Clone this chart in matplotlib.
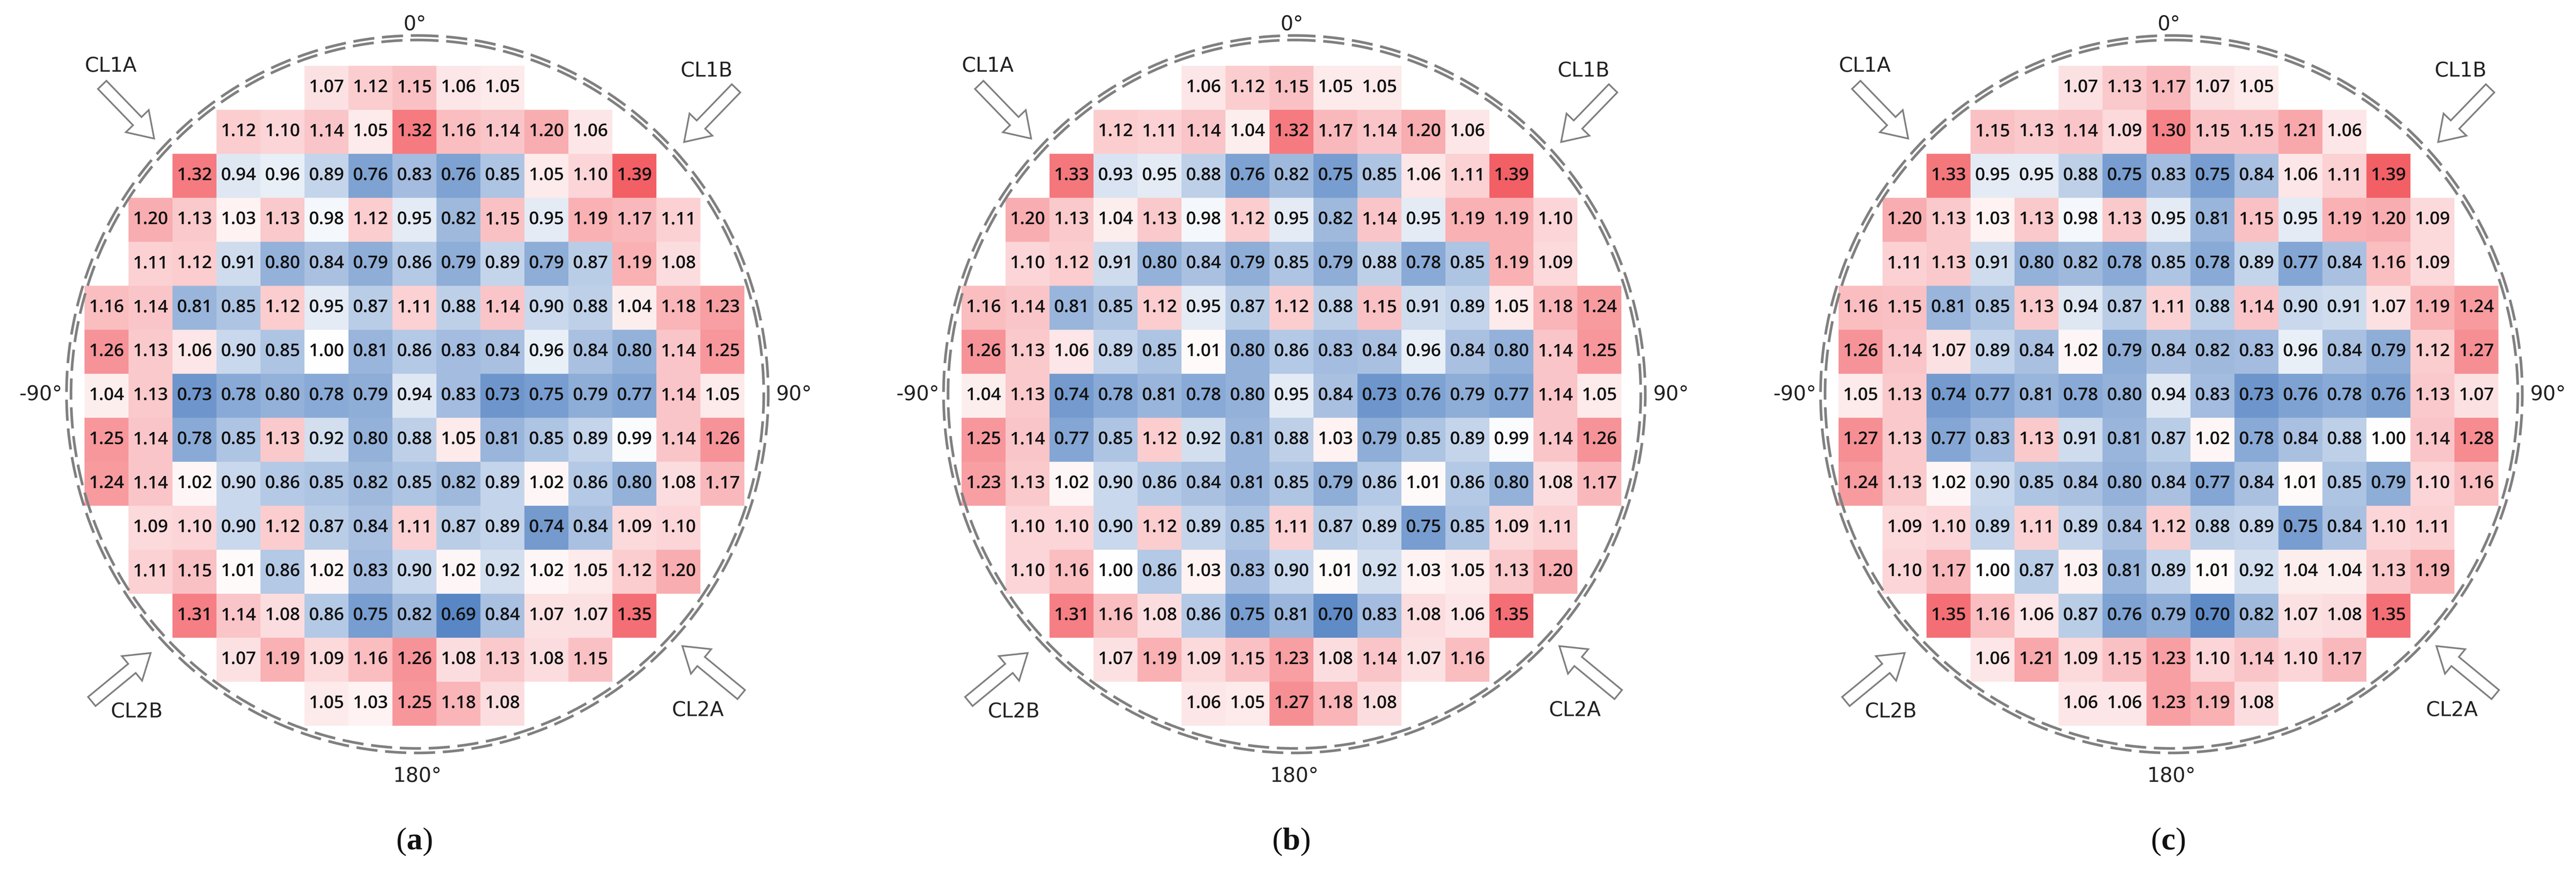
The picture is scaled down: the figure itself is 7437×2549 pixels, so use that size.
import numpy as np
import matplotlib
matplotlib.use("Agg")
import matplotlib.pyplot as plt
from matplotlib.colors import LinearSegmentedColormap, TwoSlopeNorm
from matplotlib.patches import Ellipse

plt.rcParams['lines.scale_dashes'] = False
plt.rcParams['mathtext.fontset'] = 'custom'
plt.rcParams['mathtext.rm'] = 'Liberation Serif'
plt.rcParams['mathtext.bf'] = 'Liberation Serif:bold'

panel_a = [
    [1.07, 1.12, 1.15, 1.06, 1.05],
    [1.12, 1.10, 1.14, 1.05, 1.32, 1.16, 1.14, 1.20, 1.06],
    [1.32, 0.94, 0.96, 0.89, 0.76, 0.83, 0.76, 0.85, 1.05, 1.10, 1.39],
    [1.20, 1.13, 1.03, 1.13, 0.98, 1.12, 0.95, 0.82, 1.15, 0.95, 1.19, 1.17, 1.11],
    [1.11, 1.12, 0.91, 0.80, 0.84, 0.79, 0.86, 0.79, 0.89, 0.79, 0.87, 1.19, 1.08],
    [1.16, 1.14, 0.81, 0.85, 1.12, 0.95, 0.87, 1.11, 0.88, 1.14, 0.90, 0.88, 1.04, 1.18, 1.23],
    [1.26, 1.13, 1.06, 0.90, 0.85, 1.00, 0.81, 0.86, 0.83, 0.84, 0.96, 0.84, 0.80, 1.14, 1.25],
    [1.04, 1.13, 0.73, 0.78, 0.80, 0.78, 0.79, 0.94, 0.83, 0.73, 0.75, 0.79, 0.77, 1.14, 1.05],
    [1.25, 1.14, 0.78, 0.85, 1.13, 0.92, 0.80, 0.88, 1.05, 0.81, 0.85, 0.89, 0.99, 1.14, 1.26],
    [1.24, 1.14, 1.02, 0.90, 0.86, 0.85, 0.82, 0.85, 0.82, 0.89, 1.02, 0.86, 0.80, 1.08, 1.17],
    [1.09, 1.10, 0.90, 1.12, 0.87, 0.84, 1.11, 0.87, 0.89, 0.74, 0.84, 1.09, 1.10],
    [1.11, 1.15, 1.01, 0.86, 1.02, 0.83, 0.90, 1.02, 0.92, 1.02, 1.05, 1.12, 1.20],
    [1.31, 1.14, 1.08, 0.86, 0.75, 0.82, 0.69, 0.84, 1.07, 1.07, 1.35],
    [1.07, 1.19, 1.09, 1.16, 1.26, 1.08, 1.13, 1.08, 1.15],
    [1.05, 1.03, 1.25, 1.18, 1.08],
]

panel_b = [
    [1.06, 1.12, 1.15, 1.05, 1.05],
    [1.12, 1.11, 1.14, 1.04, 1.32, 1.17, 1.14, 1.20, 1.06],
    [1.33, 0.93, 0.95, 0.88, 0.76, 0.82, 0.75, 0.85, 1.06, 1.11, 1.39],
    [1.20, 1.13, 1.04, 1.13, 0.98, 1.12, 0.95, 0.82, 1.14, 0.95, 1.19, 1.19, 1.10],
    [1.10, 1.12, 0.91, 0.80, 0.84, 0.79, 0.85, 0.79, 0.88, 0.78, 0.85, 1.19, 1.09],
    [1.16, 1.14, 0.81, 0.85, 1.12, 0.95, 0.87, 1.12, 0.88, 1.15, 0.91, 0.89, 1.05, 1.18, 1.24],
    [1.26, 1.13, 1.06, 0.89, 0.85, 1.01, 0.80, 0.86, 0.83, 0.84, 0.96, 0.84, 0.80, 1.14, 1.25],
    [1.04, 1.13, 0.74, 0.78, 0.81, 0.78, 0.80, 0.95, 0.84, 0.73, 0.76, 0.79, 0.77, 1.14, 1.05],
    [1.25, 1.14, 0.77, 0.85, 1.12, 0.92, 0.81, 0.88, 1.03, 0.79, 0.85, 0.89, 0.99, 1.14, 1.26],
    [1.23, 1.13, 1.02, 0.90, 0.86, 0.84, 0.81, 0.85, 0.79, 0.86, 1.01, 0.86, 0.80, 1.08, 1.17],
    [1.10, 1.10, 0.90, 1.12, 0.89, 0.85, 1.11, 0.87, 0.89, 0.75, 0.85, 1.09, 1.11],
    [1.10, 1.16, 1.00, 0.86, 1.03, 0.83, 0.90, 1.01, 0.92, 1.03, 1.05, 1.13, 1.20],
    [1.31, 1.16, 1.08, 0.86, 0.75, 0.81, 0.70, 0.83, 1.08, 1.06, 1.35],
    [1.07, 1.19, 1.09, 1.15, 1.23, 1.08, 1.14, 1.07, 1.16],
    [1.06, 1.05, 1.27, 1.18, 1.08],
]

panel_c = [
    [1.07, 1.13, 1.17, 1.07, 1.05],
    [1.15, 1.13, 1.14, 1.09, 1.30, 1.15, 1.15, 1.21, 1.06],
    [1.33, 0.95, 0.95, 0.88, 0.75, 0.83, 0.75, 0.84, 1.06, 1.11, 1.39],
    [1.20, 1.13, 1.03, 1.13, 0.98, 1.13, 0.95, 0.81, 1.15, 0.95, 1.19, 1.20, 1.09],
    [1.11, 1.13, 0.91, 0.80, 0.82, 0.78, 0.85, 0.78, 0.89, 0.77, 0.84, 1.16, 1.09],
    [1.16, 1.15, 0.81, 0.85, 1.13, 0.94, 0.87, 1.11, 0.88, 1.14, 0.90, 0.91, 1.07, 1.19, 1.24],
    [1.26, 1.14, 1.07, 0.89, 0.84, 1.02, 0.79, 0.84, 0.82, 0.83, 0.96, 0.84, 0.79, 1.12, 1.27],
    [1.05, 1.13, 0.74, 0.77, 0.81, 0.78, 0.80, 0.94, 0.83, 0.73, 0.76, 0.78, 0.76, 1.13, 1.07],
    [1.27, 1.13, 0.77, 0.83, 1.13, 0.91, 0.81, 0.87, 1.02, 0.78, 0.84, 0.88, 1.00, 1.14, 1.28],
    [1.24, 1.13, 1.02, 0.90, 0.85, 0.84, 0.80, 0.84, 0.77, 0.84, 1.01, 0.85, 0.79, 1.10, 1.16],
    [1.09, 1.10, 0.89, 1.11, 0.89, 0.84, 1.12, 0.88, 0.89, 0.75, 0.84, 1.10, 1.11],
    [1.10, 1.17, 1.00, 0.87, 1.03, 0.81, 0.89, 1.01, 0.92, 1.04, 1.04, 1.13, 1.19],
    [1.35, 1.16, 1.06, 0.87, 0.76, 0.79, 0.70, 0.82, 1.07, 1.08, 1.35],
    [1.06, 1.21, 1.09, 1.15, 1.23, 1.10, 1.14, 1.10, 1.17],
    [1.06, 1.06, 1.23, 1.19, 1.08],
]

panels = [panel_a, panel_b, panel_c]
captions = ['a', 'b', 'c']

N = 15
W, H = 7437, 2549
cell = 127
grid_x0, grid_y0 = 244, 190
dx = 2532

cmap = LinearSegmentedColormap.from_list('bwr_soft', ['#4a7cc0', '#ffffff', '#f2535a'])
norm = TwoSlopeNorm(vmin=0.66, vcenter=1.0, vmax=1.42)

fig = plt.figure(figsize=(W / 100, H / 100), dpi=100)
ax = fig.add_axes([0, 0, 1, 1])
ax.set_xlim(0, W)
ax.set_ylim(H, 0)
ax.axis('off')

gray = '#808080'

def hollow_arrow(x, y, ddx, ddy):
    ax.arrow(x, y, ddx, ddy, width=34, head_width=92, head_length=70,
             length_includes_head=True, facecolor='white', edgecolor=gray,
             linewidth=3.5, zorder=5)

for p, rows in enumerate(panels):
    off = p * dx
    grid = np.full((N, N), np.nan)
    for r, vals in enumerate(rows):
        c0 = (N - len(vals)) // 2
        grid[r, c0:c0 + len(vals)] = vals
    x0 = grid_x0 + off
    ax.imshow(np.ma.masked_invalid(grid), cmap=cmap, norm=norm,
              extent=(x0, x0 + N * cell, grid_y0 + N * cell, grid_y0),
              interpolation='nearest', zorder=1)
    for r, vals in enumerate(rows):
        c0 = (N - len(vals)) // 2
        for k, v in enumerate(vals):
            ax.text(x0 + (c0 + k + 0.5) * cell, grid_y0 + (r + 0.5) * cell,
                    f'{v:.2f}', ha='center', va='center', fontsize=37,
                    family='Open Sans', weight='semibold', color='#111111', zorder=3)

    cx, cy = 1205 + off, 1138
    for rad in (0, 13):
        ax.add_patch(Ellipse((cx, cy), 2000 + rad * 2, 2045 + rad * 2, fill=False,
                             edgecolor=gray, linewidth=5.5,
                             linestyle=(0, (44, 16)), zorder=4))

    tk = dict(fontsize=42, family='DejaVu Sans', color='#222222')
    ax.text(cx - 8, 70, '0°', ha='center', va='center', **tk)
    ax.text(cx, 2240, '180°', ha='center', va='center', **tk)
    ax.text(cx - 1025, cy, '-90°', ha='right', va='center', **tk)
    ax.text(cx + 1035, cy, '90°', ha='left', va='center', **tk)

    ax.text(320 + off, 190, 'CL1A', ha='center', va='center', **tk)
    ax.text(2040 + off, 205, 'CL1B', ha='center', va='center', **tk)
    ax.text(395 + off, 2055, 'CL2B', ha='center', va='center', **tk)
    ax.text(2015 + off, 2050, 'CL2A', ha='center', va='center', **tk)
    hollow_arrow(295 + off, 245, 150, 155)
    hollow_arrow(2125 + off, 255, -150, 155)
    hollow_arrow(265 + off, 2025, 170, -140)
    hollow_arrow(2140 + off, 2005, -170, -140)

    ax.text(cx - 10, 2430, '(' + r'$\mathbf{' + captions[p] + '}$' + ')',
            ha='center', va='center', fontsize=66, family='Liberation Serif',
            color='#111111')

fig.savefig('out.png', dpi=100)
